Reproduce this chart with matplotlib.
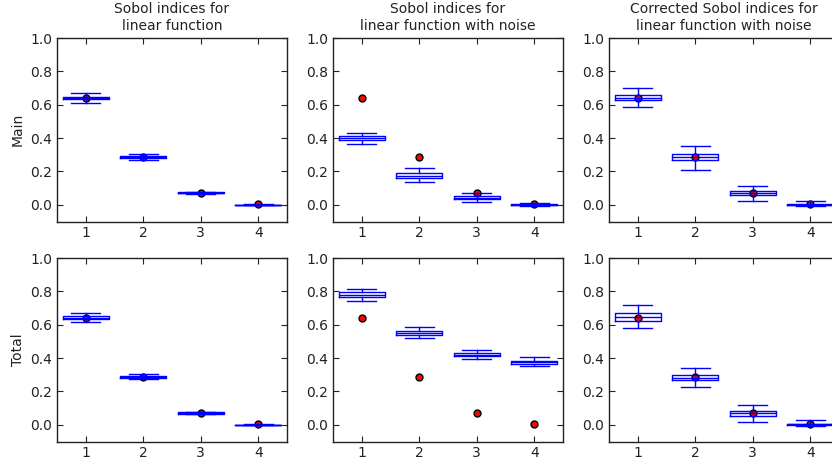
import matplotlib
matplotlib.use("Agg")
import matplotlib.pyplot as plt

variables = [1, 2, 3, 4]
true_indices = [0.643, 0.288, 0.072, 0.002]

titles = ["Sobol indices for\nlinear function",
          "Sobol indices for\nlinear function with noise",
          "Corrected Sobol indices for\nlinear function with noise"]
row_labels = ["Main", "Total"]

# box stats per panel: whisker low, q1, median, q3, whisker high
main_lin_lo = [0.611, 0.268, 0.066, -0.003]
main_lin_q1 = [0.632, 0.280, 0.068, -0.001]
main_lin_med = [0.640, 0.286, 0.071, 0.000]
main_lin_q3 = [0.647, 0.292, 0.075, 0.001]
main_lin_hi = [0.668, 0.306, 0.077, 0.003]

main_noise_lo = [0.367, 0.136, 0.019, -0.005]
main_noise_q1 = [0.389, 0.160, 0.032, -0.002]
main_noise_med = [0.401, 0.174, 0.043, 0.000]
main_noise_q3 = [0.413, 0.189, 0.052, 0.003]
main_noise_hi = [0.431, 0.223, 0.068, 0.012]

main_corr_lo = [0.587, 0.207, 0.025, -0.008]
main_corr_q1 = [0.627, 0.267, 0.061, -0.002]
main_corr_med = [0.640, 0.285, 0.070, 0.001]
main_corr_q3 = [0.657, 0.305, 0.082, 0.004]
main_corr_hi = [0.698, 0.355, 0.112, 0.020]

total_lin_lo = [0.614, 0.272, 0.065, -0.003]
total_lin_q1 = [0.632, 0.280, 0.067, -0.001]
total_lin_med = [0.641, 0.287, 0.071, 0.000]
total_lin_q3 = [0.650, 0.294, 0.075, 0.001]
total_lin_hi = [0.668, 0.302, 0.077, 0.003]

total_noise_lo = [0.740, 0.522, 0.396, 0.354]
total_noise_q1 = [0.764, 0.540, 0.410, 0.364]
total_noise_med = [0.778, 0.550, 0.420, 0.375]
total_noise_q3 = [0.794, 0.562, 0.430, 0.384]
total_noise_hi = [0.814, 0.584, 0.446, 0.404]

total_corr_lo = [0.578, 0.226, 0.019, -0.010]
total_corr_q1 = [0.624, 0.267, 0.055, -0.002]
total_corr_med = [0.645, 0.282, 0.068, 0.002]
total_corr_q3 = [0.668, 0.297, 0.081, 0.006]
total_corr_hi = [0.716, 0.342, 0.120, 0.031]

panels = [
    [(main_lin_lo, main_lin_q1, main_lin_med, main_lin_q3, main_lin_hi),
     (main_noise_lo, main_noise_q1, main_noise_med, main_noise_q3, main_noise_hi),
     (main_corr_lo, main_corr_q1, main_corr_med, main_corr_q3, main_corr_hi)],
    [(total_lin_lo, total_lin_q1, total_lin_med, total_lin_q3, total_lin_hi),
     (total_noise_lo, total_noise_q1, total_noise_med, total_noise_q3, total_noise_hi),
     (total_corr_lo, total_corr_q1, total_corr_med, total_corr_q3, total_corr_hi)],
]

W, H = 832, 466
fig = plt.figure(figsize=(W / 100, H / 100), dpi=100)
fig.patch.set_facecolor("white")

lefts = [57, 333, 609]
tops = [38, 258]
ax_w, ax_h = 230, 183.5

blue = (0, 0, 1)
for r in range(2):
    for c in range(3):
        ax = fig.add_axes([lefts[c] / W, (H - tops[r] - ax_h) / H, ax_w / W, ax_h / H])
        lo, q1, med, q3, hi = panels[r][c]
        stats = []
        for i in range(len(variables)):
            stats.append({"whislo": lo[i], "q1": q1[i], "med": med[i],
                          "q3": q3[i], "whishi": hi[i], "fliers": []})
        ax.plot(variables, true_indices, "o", color="r", mec="k", ms=5, zorder=1)
        ax.bxp(stats, positions=variables, widths=0.8, capwidths=0.5,
               boxprops=dict(color=blue, lw=1),
               whiskerprops=dict(color=blue, lw=1, ls="-"),
               capprops=dict(color=blue, lw=1),
               medianprops=dict(color=blue, lw=1),
               showfliers=False, zorder=2)
        ax.set_xlim(0.5, 4.5)
        ax.set_ylim(-0.1, 1.0)
        ax.set_xticks(variables)
        ax.set_xticklabels([str(v) for v in variables])
        ax.set_yticks([0.0, 0.2, 0.4, 0.6, 0.8, 1.0])
        ax.set_yticklabels(["0.0", "0.2", "0.4", "0.6", "0.8", "1.0"])
        ax.tick_params(direction="in", top=True, right=True, labelsize=10,
                       length=4, colors="#222222")
        for s in ax.spines.values():
            s.set_color("#222222")
            s.set_linewidth(1.0)
        if r == 0:
            ax.set_title(titles[c], fontsize=10, color="#222222")
        if c == 0:
            ax.set_ylabel(row_labels[r], fontsize=10, color="#222222")

fig.savefig("out.png", dpi=100, facecolor="white")
